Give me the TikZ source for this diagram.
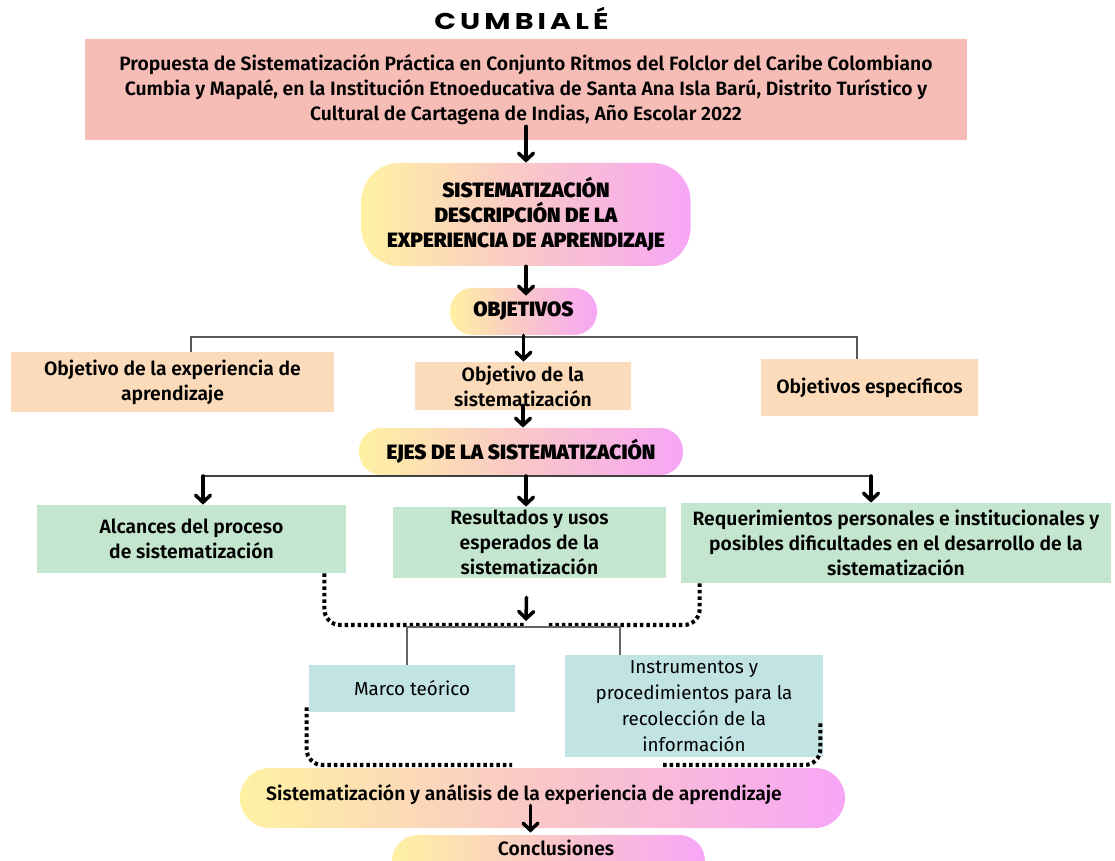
\documentclass[tikz,border=0pt]{standalone}
\usepackage{fontspec}
\setmainfont{Fira Sans}
\newfontfamily\medfont{Fira Sans SemiBold}
\newfontfamily\heavyfont{Fira Sans Black}
\newfontfamily\titlefont{Poppins Bold}[LetterSpace=18, FakeStretch=1.25]
\usepackage{xcolor}
\usetikzlibrary{arrows.meta, calc, positioning}

\newlength{\unitpx}
\setlength{\unitpx}{0.02cm}
\newcommand{\bodysize}{\fontsize{11pt}{14.2pt}\selectfont}
\newcommand{\headsize}{\fontsize{11.8pt}{14.2pt}\selectfont}

\definecolor{propfill}{RGB}{246,188,182}
\definecolor{objfill}{RGB}{252,219,186}
\definecolor{ejefill}{RGB}{196,229,206}
\definecolor{marcofill}{RGB}{193,227,227}
\definecolor{pillL}{RGB}{255,241,162}
\definecolor{pillM}{RGB}{249,199,200}
\definecolor{pillR}{RGB}{247,166,246}

\tikzset{
  box/.style={inner sep=0pt, align=center, font=\medfont\bodysize},
  propbox/.style={box, fill=propfill},
  objbox/.style={box, fill=objfill},
  ejebox/.style={box, fill=ejefill},
  marcobox/.style={box, fill=marcofill, font=\fontsize{10.7pt}{14.8pt}\selectfont},
  pill/.style={inner sep=0pt, align=center, font=\heavyfont\headsize,
    left color=pillL, right color=pillR, middle color=pillM},
  arr/.style={line width=2pt, line cap=round,
    -{Straight Barb[length=4pt,width=8.5pt,line cap=round]}},
  objline/.style={draw=black!65, line width=0.8pt},
  ejeline/.style={draw=black!75, line width=1.1pt},
  thinline/.style={draw=black!60, line width=0.6pt},
  dotline/.style={line width=2.3pt, dash pattern=on 2pt off 1.7pt, rounded corners=9pt}
}

\begin{document}
\begin{tikzpicture}[x=0.02cm, y=-0.02cm]
\clip (0,0) rectangle (1115,861);
\fill[white] (0,0) rectangle (1115,861);

% Title
\node[anchor=base west, inner sep=0pt, font=\titlefont\fontsize{13pt}{13pt}\selectfont] (title) at (434,30) {CUMBIALÉ};

% Proposal
\node[propbox, minimum width=882\unitpx, minimum height=101\unitpx] (prop) at (526,89.5)
  {Propuesta de Sistematización Práctica en Conjunto Ritmos del Folclor del Caribe Colombiano\\
   Cumbia y Mapalé, en la Institución Etnoeducativa de Santa Ana Isla Barú, Distrito Turístico y\\
   Cultural de Cartagena de Indias, Año Escolar 2022};

% Main pills
\node[pill, minimum width=329\unitpx, minimum height=103\unitpx, rounded corners=38\unitpx] (desc) at (526,214.5)
  {SISTEMATIZACIÓN\\DESCRIPCIÓN DE LA\\EXPERIENCIA DE APRENDIZAJE};
\node[pill, minimum width=147\unitpx, minimum height=47\unitpx, rounded corners=23\unitpx] (obj) at (523.5,311.5) {OBJETIVOS};

% Objectives
\node[objbox, minimum width=323\unitpx, minimum height=60\unitpx] (oexp) at (172.5,382) {Objetivo de la experiencia de\\aprendizaje};
\node[objbox, minimum width=216\unitpx, minimum height=48\unitpx] (osis) at (523,386) {Objetivo de la\\sistematización};
\node[objbox, minimum width=217\unitpx, minimum height=57\unitpx] (oesp) at (869.5,387.5) {Objetivos específicos};

\node[pill, minimum width=324\unitpx, minimum height=47\unitpx, rounded corners=23\unitpx] (ejes) at (521,451.5) {EJES DE LA SISTEMATIZACIÓN};

% Axes
\node[ejebox, minimum width=309\unitpx, minimum height=68\unitpx] (alc) at (191.5,539) {Alcances del proceso\\de sistematización};
\node[ejebox, minimum width=273\unitpx, minimum height=71\unitpx] (res) at (529.5,542.5) {Resultados y usos\\esperados de la\\sistematización};
\node[ejebox, minimum width=430\unitpx, minimum height=80\unitpx] (req) at (896,543)
  {Requerimientos personales e institucionales y\\posibles dificultades en el desarrollo de la\\sistematización};

% Frame and instruments
\node[marcobox, minimum width=206\unitpx, minimum height=47\unitpx] (marco) at (412,688.5) {Marco teórico};
\node[marcobox, minimum width=258\unitpx, minimum height=102\unitpx] (instr) at (694,706)
  {Instrumentos y\\procedimientos para la\\recolección de la\\información};

% Bottom pills
\node[pill, minimum width=605\unitpx, minimum height=60\unitpx, rounded corners=30\unitpx] (analisis) at (542.5,798) {};
\node[font=\medfont\bodysize, inner sep=0pt] (analisistxt) at (524,795) {Sistematización y análisis de la experiencia de aprendizaje};
\node[pill, minimum width=313\unitpx, minimum height=52\unitpx, rounded corners=26\unitpx] (concl) at (548.5,861) {};
\node[font=\medfont\bodysize, inner sep=0pt] (concltxt) at (556,848) {Conclusiones};

% Connectors
\draw[arr] ($(prop.south)+(0,-14)$) -- (prop.south |- desc.north);
\draw[arr] (desc.south) -- ($(desc.south |- obj.north)+(0,8)$);

\coordinate (ol) at (191,337);
\coordinate (or) at (857,337);
\draw[objline] (oexp.north -| ol) -- (ol) -- (or) -- (oesp.north -| or);
\draw[arr] (obj.south) -- (obj.south |- osis.north);
\draw[arr] ($(osis.south)+(0,-5)$) -- (osis.south |- ejes.north);

\coordinate (el) at (203,476);
\coordinate (em) at (526,476);
\coordinate (er) at (871,476);
\draw[ejeline] (el) -- (er);
\draw[arr] (el) -- (alc.north -| el);
\draw[arr] (em) -- (res.north -| em);
\draw[arr] (er) -- (req.north -| er);

\coordinate (mj) at (526,625);
\draw[dotline] ($(alc.south east)+(-22,0)$) |- ($(mj)+(-1,0)$);
\draw[dotline] ($(req.south west)+(19,0)$) |- ($(mj)+(22,0)$);
\draw[arr] ($(res.south)+(-3,19)$) -- ($(mj)+(0,-4)$);

\coordinate (ml) at (407,627);
\coordinate (mr) at (620,627);
\draw[thinline] (marco.north -| ml) -- (ml) -- (mr) -- (instr.north -| mr);

\coordinate (dl) at (512,765);
\coordinate (dr) at (661,765);
\draw[dotline] ($(marco.south west)+(-2,-5)$) |- (dl);
\draw[dotline] ($(instr.south east)+(-3,-34)$) |- (dr);

\draw[arr] ($(analisis.south)+(-12,-23)$) -- ($(concl.north)+(-18,-2)$);
\end{tikzpicture}
\end{document}
